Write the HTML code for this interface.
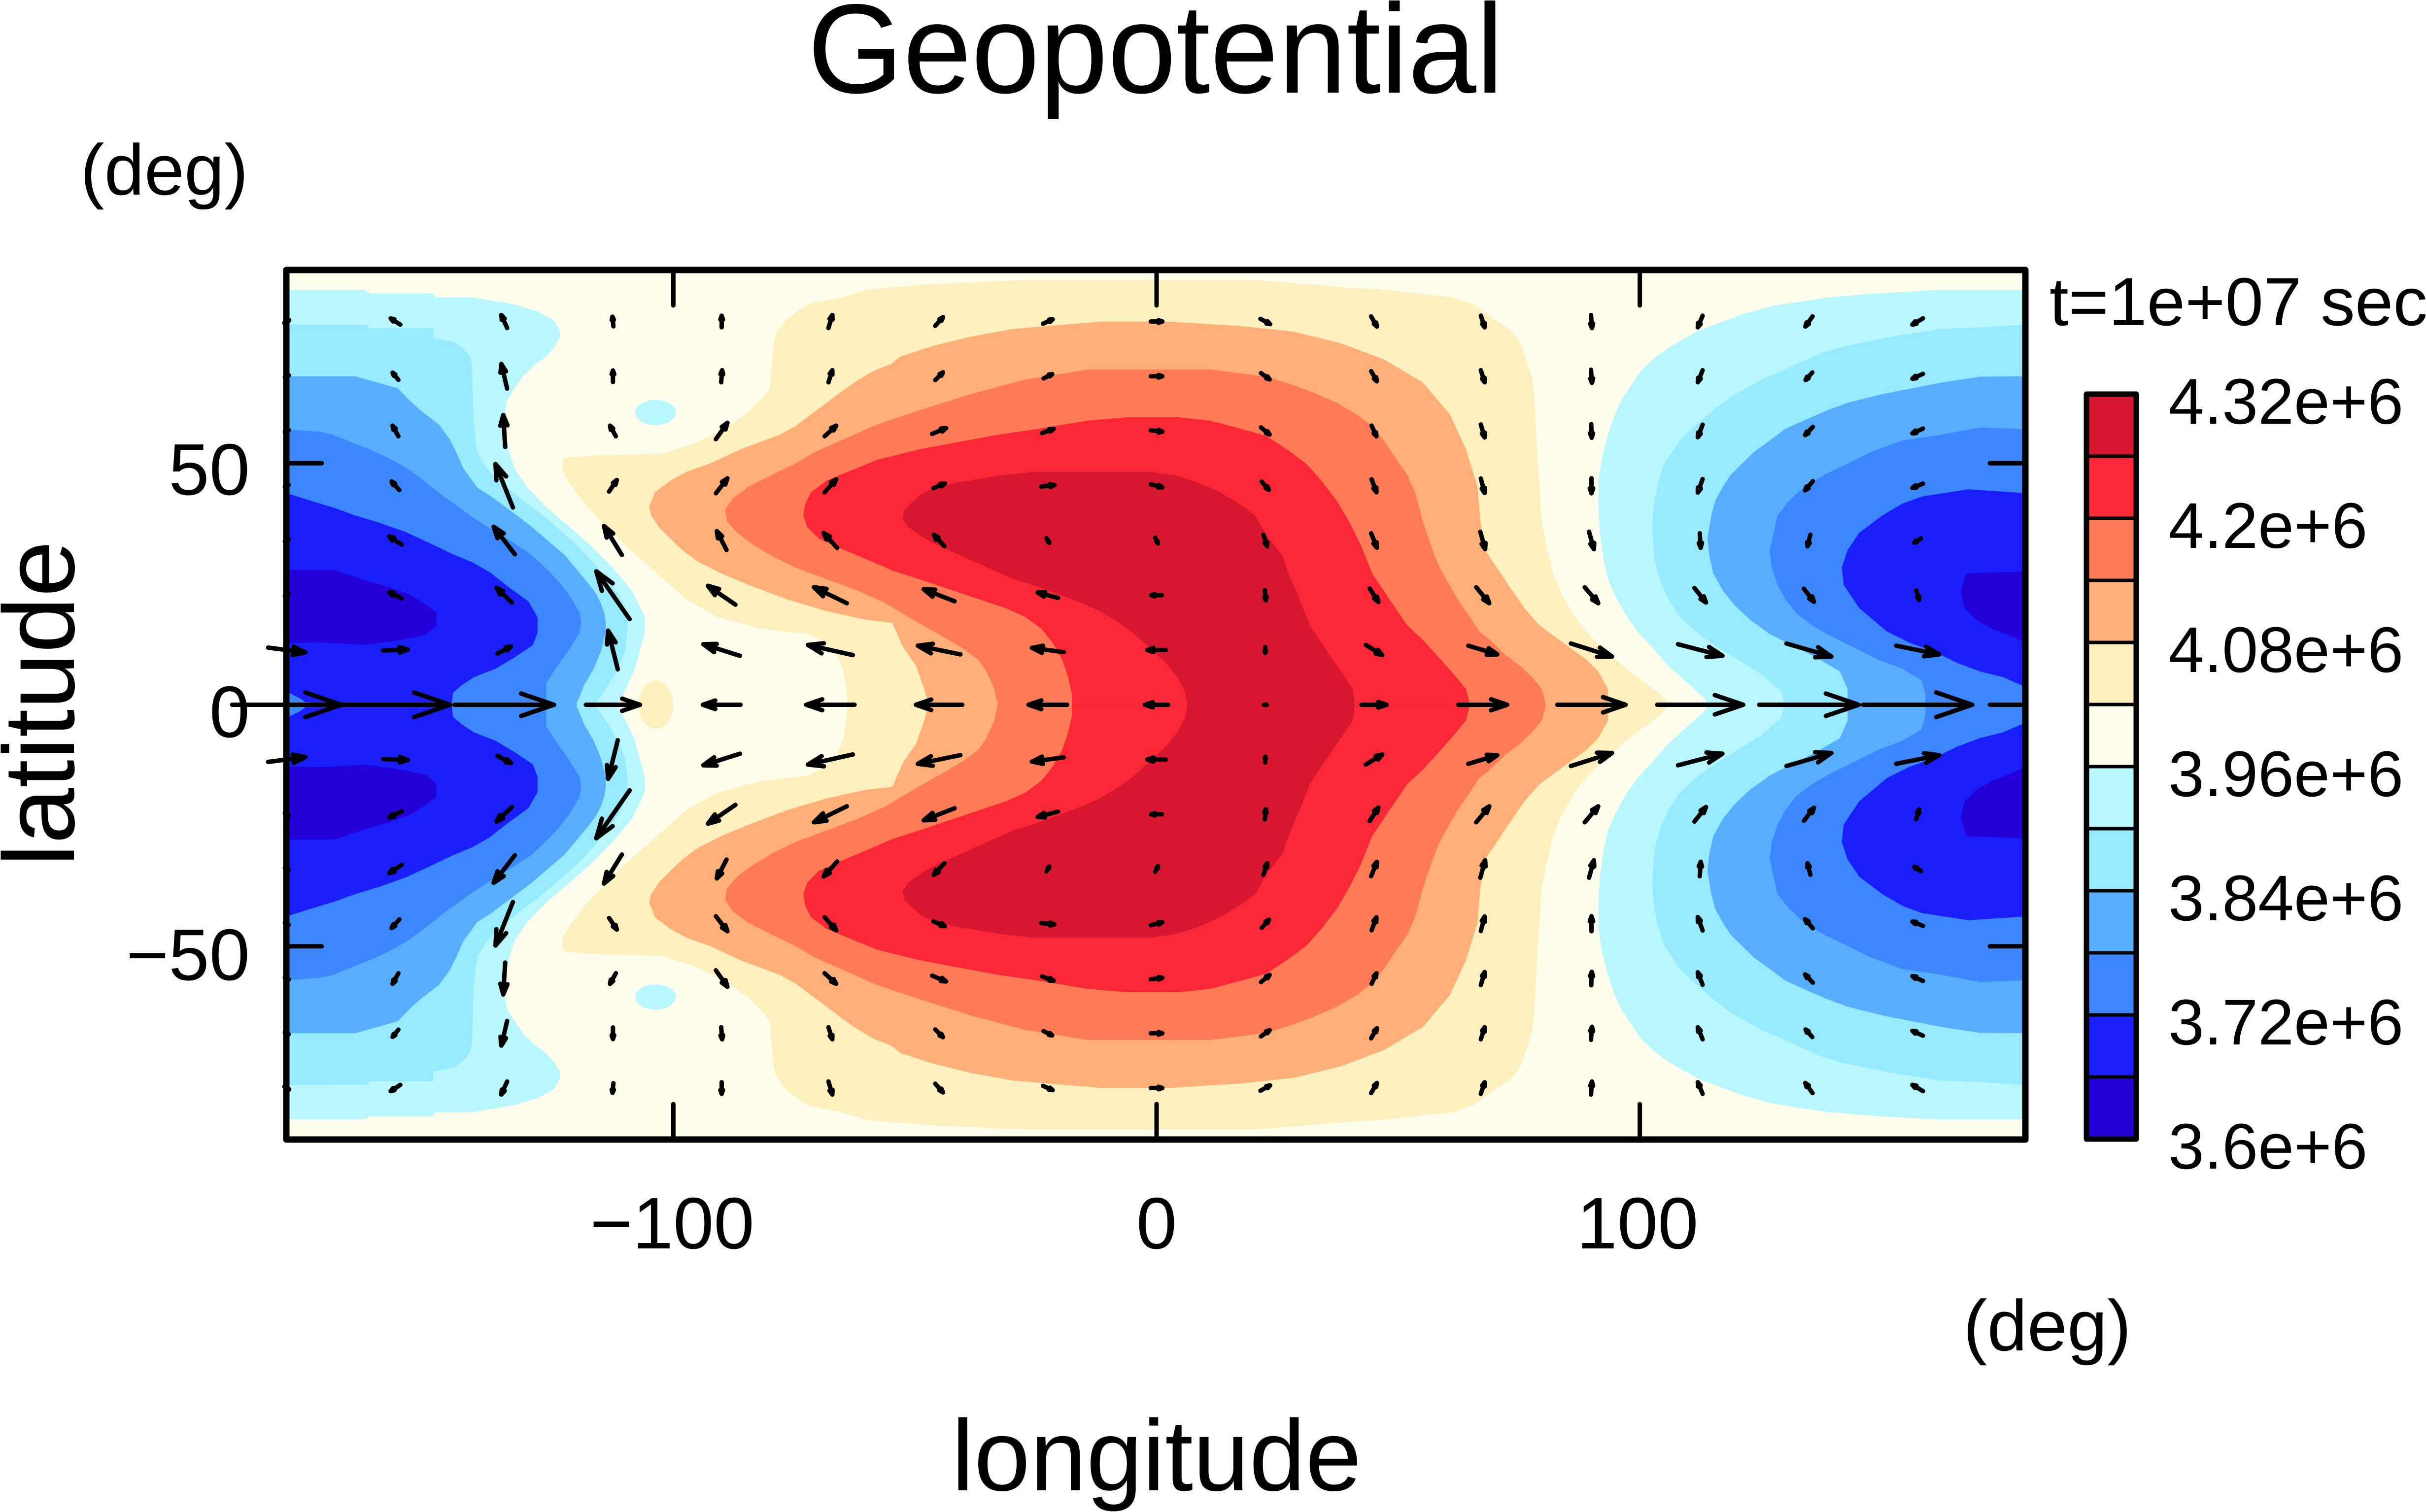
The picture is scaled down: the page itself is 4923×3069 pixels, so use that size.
<!DOCTYPE html>
<html><head><meta charset="utf-8"><style>
html,body{margin:0;padding:0;background:#fff;}
svg{display:block;}
text{font-family:"Liberation Sans",Arial,Helvetica,sans-serif;fill:#000;}
</style></head><body>
<svg xmlns="http://www.w3.org/2000/svg" width="4923" height="3069" viewBox="0 0 4923 3069">
<defs>
<clipPath id="clip"><rect x="-180" y="-90" width="360" height="180"/></clipPath>
<path id="a" d="M-1 0L1 0M0.34 0.225L1 0L0.34 -0.225" fill="none" stroke="#000" stroke-width="9" stroke-linecap="round" stroke-linejoin="round" vector-effect="non-scaling-stroke"/>
</defs>
<rect width="4923" height="3069" fill="#fff"/>

<g transform="translate(2347 1430.5) scale(9.806 -9.806)">
 <g clip-path="url(#clip)">
  <rect x="-180" y="-90" width="360" height="180" fill="#FFFDEB"/>
  <g id="F">
   <polygon fill="#FEF0BE" points="-64,-0.5 -64.2,3 -64.8,7 -66.2,10.5 -68.5,13 -72.3,14.65 -82,15.8 -90.9,18.2 -97.3,21.8 -101.4,25.4 -105.4,29 -110.2,33.2 -114.3,37.4 -118.3,41.6 -121.5,45.8 -123.1,48.75 -122.7,51.1 -115.9,51.6 -102.2,52 -95.7,54.1 -89.3,57.1 -84.4,60.7 -82,63.1 -80,65.5 -79.4,73.9 -78.8,76.9 -76.4,79.9 -72.3,82.86 -65.1,84.35 -60.2,85.85 -55,86.4 -45,87.16 -27.2,87.9 20.8,87.9 39,86.4 47.8,85.85 61.1,84.35 65.6,82.86 68,81.1 73.2,77.5 75.2,75.1 77.7,67.9 78.1,64.3 78.9,49.9 79.7,38 80.9,32 82.1,27.2 83.7,23 86.5,18.2 89.8,14.05 93.8,10.46 97.8,6.87 101.1,4.47 104.3,2.1 105.9,0.3 106,-0.5"/>
   <polygon fill="#FFAF78" points="-47,-0.5 -48.1,3.3 -49.8,8.1 -52.5,12 -54.7,17 -60.2,17.6 -68.3,19.4 -76.4,21.8 -84.4,24.8 -90.1,27.2 -94.9,29.6 -98.1,32 -100.6,34.4 -103,36.8 -104.6,39.2 -105,41 -103.8,44 -100.6,46.4 -97.3,48.2 -92.5,49.9 -86,52.9 -81.2,54.7 -78,55.9 -74.7,57.7 -71.5,60.1 -68.3,62.5 -65.9,64.3 -62.6,66.7 -58.6,69.1 -55,70.5 -53,72.1 -46.5,74.2 -38.5,76.2 -29.6,77.8 -11.4,79.3 2.7,79.3 17.2,78.4 28.5,77.2 38.2,74.8 47,71.5 55.1,66.7 60.7,60.1 64,52.9 66.4,45.2 67,38 68,32 70.4,28.4 72.8,24.8 76.1,20 79.3,16.4 82.5,14.05 85.7,11.7 89,9.3 91.4,6.9 93.4,3.3 93.4,-0.5"/>
   <polygon fill="#FF7B55" points="-32.8,-0.5 -33.6,3.3 -35.2,6.9 -36.9,9.3 -40.1,11.7 -44.1,14.05 -51.4,18.2 -56,21 -61.8,23.6 -68.3,26 -74.7,28.4 -79.6,30.8 -83.6,33.2 -86.8,35.6 -88.9,38 -89.3,40.4 -87.6,42.8 -84.4,45.2 -79.6,47.6 -74.7,49.95 -70.7,52.3 -66.7,54.1 -62.6,55.9 -58.6,57.7 -55,59 -49.8,60.7 -38.5,64.3 -32.8,65.8 -27.2,67.3 -21.5,68.2 -14.3,69.4 11.1,69.4 22.8,67.9 28.5,66.1 32.5,64.6 37.3,62.5 41.4,60.1 44.6,57.7 47,54.7 49.4,51.1 51.9,47.6 53.5,44 55.1,38 56.7,33.2 58.3,29 59.9,26 62.3,21.8 64.8,18.2 66.8,15.2 68.7,13.7 72,10.46 75.2,8.07 77.7,5.7 79.7,3.3 80.5,0.3 80.5,-0.5"/>
   <polygon fill="#FA2837" points="-17.5,-0.5 -17.5,2.1 -18.3,5.7 -19.5,9.27 -21.5,12.8 -23.9,15.8 -27.2,18.2 -31.2,20 -39.3,22.7 -47.3,25.4 -54.7,27.8 -60.2,30.2 -65.9,32.6 -69.9,34.4 -72.3,36.8 -73.1,39.2 -72.7,41.6 -71.5,44 -68.3,46.4 -62.6,48.75 -57.8,50.7 -48.9,52.9 -40.9,54.4 -32.8,55.9 -23.9,57.2 -14.3,58.8 -6.2,59.5 4.7,59.5 11.1,58.8 17.2,57.2 22.8,55.6 26.9,52.9 30.9,49.95 34.1,46.4 37.3,42.2 39.8,38 42.2,33.2 44.6,27.2 47.8,22.4 51.9,16.4 55.1,13.45 58.3,9.9 61.5,6.3 64,3.3 64.8,0.3 64.8,-0.5"/>
   <polygon fill="#D7172F" points="6.3,-0.5 6.3,0.3 5.9,2.7 4.3,5.7 1.9,8.7 -1.4,11.7 -4.6,14.65 -7.8,17 -11.8,19.4 -15.9,21.2 -20.7,23 -25.6,24.8 -29.6,26 -33.6,27.8 -37.7,29.6 -41.7,31.4 -45.7,33.2 -48.9,35 -51.4,36.8 -52.6,38.6 -52.2,40.4 -49,43.4 -46.5,44.6 -41.7,45.9 -32.8,47.4 -25.6,48.2 -1,48.2 4.3,47.4 9.1,45.8 13.1,44 18,41 20.4,39.2 22.8,35 26.1,30.8 27.3,27.2 30.1,20.6 31.7,16.4 34.1,12.8 36.5,9.27 39,5.7 40.6,3.3 41,0.3 41,-0.5"/>
   <g id="B">
    <polygon fill="#B8F7FE" points="114.8,-0.5 113.2,1.5 109.9,4.47 105.9,8.07 102.7,11.7 99.5,15.2 97,18.8 95,22.4 93.4,26 92.6,29.6 91.8,35 91.4,41 91.4,46.4 92.2,51.2 93.4,55.9 94.6,59.5 96.2,63.1 98.6,66.7 100.2,69.1 102.7,71.5 105.9,73.9 109.1,75.7 112.3,77.5 117.2,79.3 121.2,80.8 127.7,82.6 138.2,84.2 146.2,84.95 161.1,85.85 196.1,85.85 197.35,85.13 210.25,85.13 210.7,84.35 218.3,84.35 227.2,82.86 232,81.36 235.25,79.56 236.5,77.47 236.5,75.97 235.25,73.88 233.6,72.09 231.2,70.29 228.8,67.9 227.2,65.5 225.6,63.1 225.2,60.7 225.4,55.9 226,52.3 227.2,48.75 229.6,45.2 233.6,41 238.5,36.8 243.3,32.6 247.4,28.4 251.4,23.6 253.8,18.8 254.2,17 254,14.65 253,11 252,7.4 250.5,4 248.5,0.3 248.5,-0.5"/>
    <polygon fill="#98EAFE" points="130.1,-0.5 129.3,2.7 125.2,6.3 120.4,9.27 115.6,12.2 111.5,15.2 108.3,18.2 105.9,21.8 104.3,25.4 103.1,29.6 102.7,34.4 102.7,39.2 103.1,42.8 103.9,46.4 105.1,49.95 106.7,52.3 108.3,54.7 110.7,57.1 113.2,59.2 115.6,61.3 118.8,63.7 122,65.5 125.2,67.3 129.3,69.1 133.3,70.9 137.3,72.7 142.2,74.2 152.7,76.3 162.4,77.8 170.4,78.1 180,78.7 196.9,78.67 196.9,77.95 210.3,77.95 210.3,75.97 214.7,75.08 216.3,73.88 217.9,72.09 218.3,70.29 218.5,64.9 218.7,58.3 219,55 219.5,52 221.3,49 225.5,45 228,43 232,40 235.5,37 239,34 242,31 244.7,28 247,25 248.5,23 249.5,21 250.3,19 250.5,17 250.5,15 250,11 248.5,7.4 246.5,4 244,0.3 244,-0.5"/>
    <polygon fill="#58AEFE" points="143,-0.5 143,3.3 141.4,6.9 136.5,9.8 131.7,12.2 126.9,14.65 122.8,17.6 119.6,20.6 117.2,23.6 115.2,27.2 114.4,30.8 114,34.4 114.8,39.2 115.6,42.2 117.2,45.2 118.8,47.6 121.2,49.95 123.6,52.3 126.9,54.7 130.1,57.1 134.1,58.9 138.2,60.7 143,62.5 150.2,64.3 162.4,66.7 170.4,67.9 180,68 194.1,68 203,65.5 205.4,63 207.6,61 211.5,58 213.7,55 215.2,52 216.5,49 219.4,45 222.5,43 226.5,40 230.5,37 234,34 237.5,31 240,28 242.5,25 244,23 245,21 245.7,19 246,17 246,15 245,11 243.5,7.4 241.5,4 240,0.3 240,-0.5"/>
    <polygon fill="#3D87FE" points="159.1,-0.5 159.1,2.1 158.3,5.07 154.3,7.47 149.4,9.27 144.6,11.7 139.8,14.05 135.7,16.4 132.5,18.8 130.1,21.8 128.5,24.8 127.3,28.4 126.9,32 127.7,35.6 128.5,39.2 130.9,42.2 134.1,45.2 138.2,47.6 143,49.95 147.8,52.3 154.3,54.7 162.4,55.9 170.4,57.4 180,57 187,56.5 189.7,55.9 192.5,54.7 197.8,52.6 201,51.1 204.5,49.2 207.5,47.05 210,45.1 212.5,43.1 215.6,40.9 218.8,38.6 221.9,36.6 226.2,34 230.6,31.1 233.7,28.2 236.2,25.6 238.7,22.3 240.6,19.1 240.9,17.1 240.6,14.9 238.1,10.95 235.6,7.4 233.7,4.45 233.7,-0.5"/>
    <polygon fill="#1A1EFA" points="180,2.7 179.3,3.9 175.2,5.7 170.4,6.9 165.6,8.7 160.7,11.1 155.9,12.8 151.1,15.2 145.4,20 142.2,24.8 141.8,28.4 143,32 145.4,35.6 150.2,39.2 154.3,41.6 158.3,43.1 168,44.6 180,43.8 185.7,42 190,40.7 194.1,39.2 199.4,37.6 204.7,35.7 209.7,33.4 214.1,31.3 218.4,29.5 221.9,27.5 225.6,24.6 230,21.4 231.9,18.1 231.9,14.9 230.9,12.3 226.9,9.65 223.1,7.4 218.8,5.75 216.3,4.1 214.4,2.5 214.1,-0.5 185,-0.5 183,1.2"/>
    <polygon fill="#2400D8" points="179.3,27.6 167.6,27.2 166.4,23.6 167.2,20 169.6,17.6 172.8,15.8 176.9,14.2 180,12.8 187.2,12.9 196.3,12.4 202.5,13.2 208.8,14.5 211,16.5 211,19.1 208.8,20.7 205.65,22.7 201.3,24.3 195.7,25.9 190,27.9 180.4,27.9"/>
   </g>
   <use href="#B" transform="translate(-360 0)"/>
  </g>
  <use href="#F" transform="scale(1 -1)"/>
  <ellipse cx="-103.6" cy="0" rx="3.6" ry="5" fill="#FEF0BE"/>
  <ellipse cx="-103.7" cy="60.5" rx="4.2" ry="2.6" fill="#B8F7FE"/>
  <ellipse cx="-103.7" cy="-60.5" rx="4.2" ry="2.6" fill="#B8F7FE"/>
 </g>

 <g>
  <use href="#a" transform="matrix(11.3 0 0 11.3 -180 0)"/>
  <use href="#a" transform="matrix(11.3 0 0 11.3 -157.5 0)"/>
  <use href="#a" transform="matrix(10.3 0 0 10.3 -135 0)"/>
  <use href="#a" transform="matrix(5.6 0 0 5.6 -112.5 0)"/>
  <use href="#a" transform="matrix(-3.9 0 0 -3.9 -90 0)"/>
  <use href="#a" transform="matrix(-5 0 0 -5 -67.5 0)"/>
  <use href="#a" transform="matrix(-4.8 0 0 -4.8 -45 0)"/>
  <use href="#a" transform="matrix(-4 0 0 -4 -22.5 0)"/>
  <use href="#a" transform="matrix(-2.4 0 0 -2.4 0 0)"/>
  <use href="#a" transform="matrix(0.3 0 0 0.3 22.5 0)"/>
  <use href="#a" transform="matrix(2.6 0 0 2.6 45 0)"/>
  <use href="#a" transform="matrix(5.05 0 0 5.05 67.5 0)"/>
  <use href="#a" transform="matrix(7.05 0 0 7.05 90 0)"/>
  <use href="#a" transform="matrix(8.9 0 0 8.9 112.5 0)"/>
  <use href="#a" transform="matrix(10.3 0 0 10.3 135 0)"/>
  <use href="#a" transform="matrix(11.3 0 0 11.3 157.5 0)"/>
 </g>
 <g id="AN">
  <use href="#a" transform="matrix(3.85 -0.5 0.5 3.85 -180 11.33)"/>
  <use href="#a" transform="matrix(2.55 0.1 -0.1 2.55 -157.5 11.33)"/>
  <use href="#a" transform="matrix(1.4 0.75 -0.75 1.4 -135 11.33)"/>
  <use href="#a" transform="matrix(-1 4 -4 -1 -112.5 11.33)"/>
  <use href="#a" transform="matrix(-3.8 1.2 -1.2 -3.8 -90 11.33)"/>
  <use href="#a" transform="matrix(-4.65 1.05 -1.05 -4.65 -67.5 11.33)"/>
  <use href="#a" transform="matrix(-4.4 0.9 -0.9 -4.4 -45 11.33)"/>
  <use href="#a" transform="matrix(-3.3 0.45 -0.45 -3.3 -22.5 11.33)"/>
  <use href="#a" transform="matrix(-1.9 0 0 -1.9 0 11.33)"/>
  <use href="#a" transform="matrix(0 -0.6 0.6 0 22.5 11.33)"/>
  <use href="#a" transform="matrix(1.7 -1.05 1.05 1.7 45 11.33)"/>
  <use href="#a" transform="matrix(3 -0.9 0.9 3 67.5 11.33)"/>
  <use href="#a" transform="matrix(4.25 -1.35 1.35 4.25 90 11.33)"/>
  <use href="#a" transform="matrix(4.6 -1.2 1.2 4.6 112.5 11.33)"/>
  <use href="#a" transform="matrix(4.65 -1.35 1.35 4.65 135 11.33)"/>
  <use href="#a" transform="matrix(4.45 -0.9 0.9 4.45 157.5 11.33)"/>
  <use href="#a" transform="matrix(0.4 0.2 -0.2 0.4 -180 22.67)"/>
  <use href="#a" transform="matrix(-1.3 0.65 -0.65 -1.3 -157.5 22.67)"/>
  <use href="#a" transform="matrix(-1.6 1.5 -1.5 -1.6 -135 22.67)"/>
  <use href="#a" transform="matrix(-3.45 4.95 -4.95 -3.45 -112.5 22.67)"/>
  <use href="#a" transform="matrix(-2.85 1.95 -1.95 -2.85 -90 22.67)"/>
  <use href="#a" transform="matrix(-3.4 1.65 -1.65 -3.4 -67.5 22.67)"/>
  <use href="#a" transform="matrix(-3.2 1.25 -1.25 -3.2 -45 22.67)"/>
  <use href="#a" transform="matrix(-2.1 0.55 -0.55 -2.1 -22.5 22.67)"/>
  <use href="#a" transform="matrix(-1.1 0 0 -1.1 0 22.67)"/>
  <use href="#a" transform="matrix(0.1 -1.05 1.05 0.1 22.5 22.67)"/>
  <use href="#a" transform="matrix(0.9 -1.4 1.4 0.9 45 22.67)"/>
  <use href="#a" transform="matrix(1.35 -1.65 1.65 1.35 67.5 22.67)"/>
  <use href="#a" transform="matrix(1.4 -1.65 1.65 1.4 90 22.67)"/>
  <use href="#a" transform="matrix(1.2 -1.5 1.5 1.2 112.5 22.67)"/>
  <use href="#a" transform="matrix(1.05 -1.35 1.35 1.05 135 22.67)"/>
  <use href="#a" transform="matrix(0.3 -1 1 0.3 157.5 22.67)"/>
  <use href="#a" transform="matrix(0.4 0.2 -0.2 0.4 -180 34)"/>
  <use href="#a" transform="matrix(-1.3 0.85 -0.85 -1.3 -157.5 34)"/>
  <use href="#a" transform="matrix(-2.2 2.85 -2.85 -2.2 -135 34)"/>
  <use href="#a" transform="matrix(-1.85 3 -3 -1.85 -112.5 34)"/>
  <use href="#a" transform="matrix(-1 1.95 -1.95 -1 -90 34)"/>
  <use href="#a" transform="matrix(-1.4 1.55 -1.55 -1.4 -67.5 34)"/>
  <use href="#a" transform="matrix(-1.1 1.2 -1.2 -1.1 -45 34)"/>
  <use href="#a" transform="matrix(0.3 -0.5 0.5 0.3 -22.5 34)"/>
  <use href="#a" transform="matrix(0.3 -0.6 0.6 0.3 0 34)"/>
  <use href="#a" transform="matrix(0.4 -1.2 1.2 0.4 22.5 34)"/>
  <use href="#a" transform="matrix(0.6 -1.5 1.5 0.6 45 34)"/>
  <use href="#a" transform="matrix(0.5 -1.8 1.8 0.5 67.5 34)"/>
  <use href="#a" transform="matrix(0.5 -1.8 1.8 0.5 90 34)"/>
  <use href="#a" transform="matrix(0.1 -1.5 1.5 0.1 112.5 34)"/>
  <use href="#a" transform="matrix(-0.3 -1.2 1.2 -0.3 135 34)"/>
  <use href="#a" transform="matrix(-0.7 -0.45 0.45 -0.7 157.5 34)"/>
  <use href="#a" transform="matrix(0.4 0.2 -0.2 0.4 -180 45.33)"/>
  <use href="#a" transform="matrix(-0.8 0.9 -0.9 -0.8 -157.5 45.33)"/>
  <use href="#a" transform="matrix(-1.8 4.5 -4.5 -1.8 -135 45.33)"/>
  <use href="#a" transform="matrix(0.8 1.2 -1.2 0.8 -112.5 45.33)"/>
  <use href="#a" transform="matrix(1.2 1.55 -1.55 1.2 -90 45.33)"/>
  <use href="#a" transform="matrix(1.2 1.35 -1.35 1.2 -67.5 45.33)"/>
  <use href="#a" transform="matrix(1.2 0.5 -0.5 1.2 -45 45.33)"/>
  <use href="#a" transform="matrix(1.35 0.15 -0.15 1.35 -22.5 45.33)"/>
  <use href="#a" transform="matrix(1.2 -0.3 0.3 1.2 0 45.33)"/>
  <use href="#a" transform="matrix(0.75 -0.85 0.85 0.75 22.5 45.33)"/>
  <use href="#a" transform="matrix(0.5 -1.35 1.35 0.5 45 45.33)"/>
  <use href="#a" transform="matrix(0.4 -1.5 1.5 0.4 67.5 45.33)"/>
  <use href="#a" transform="matrix(0 -1.55 1.55 0 90 45.33)"/>
  <use href="#a" transform="matrix(-0.5 -1.4 1.4 -0.5 112.5 45.33)"/>
  <use href="#a" transform="matrix(-0.8 -0.95 0.95 -0.8 135 45.33)"/>
  <use href="#a" transform="matrix(-1.1 -0.45 0.45 -1.1 157.5 45.33)"/>
  <use href="#a" transform="matrix(0.4 0.2 -0.2 0.4 -180 56.67)"/>
  <use href="#a" transform="matrix(-0.6 1.1 -1.1 -0.6 -157.5 56.67)"/>
  <use href="#a" transform="matrix(-0.2 3.3 -3.3 -0.2 -135 56.67)"/>
  <use href="#a" transform="matrix(-0.6 1.1 -1.1 -0.6 -112.5 56.67)"/>
  <use href="#a" transform="matrix(1.2 1.7 -1.7 1.2 -90 56.67)"/>
  <use href="#a" transform="matrix(1.2 1.1 -1.1 1.2 -67.5 56.67)"/>
  <use href="#a" transform="matrix(1.45 0.6 -0.6 1.45 -45 56.67)"/>
  <use href="#a" transform="matrix(1.2 0.45 -0.45 1.2 -22.5 56.67)"/>
  <use href="#a" transform="matrix(1.2 -0.15 0.15 1.2 0 56.67)"/>
  <use href="#a" transform="matrix(0.9 -0.75 0.75 0.9 22.5 56.67)"/>
  <use href="#a" transform="matrix(0.5 -1.1 1.1 0.5 45 56.67)"/>
  <use href="#a" transform="matrix(0.4 -1.35 1.35 0.4 67.5 56.67)"/>
  <use href="#a" transform="matrix(0.05 -1.4 1.4 0.05 90 56.67)"/>
  <use href="#a" transform="matrix(-0.5 -1.3 1.3 -0.5 112.5 56.67)"/>
  <use href="#a" transform="matrix(-0.8 -0.85 0.85 -0.8 135 56.67)"/>
  <use href="#a" transform="matrix(-1.1 -0.5 0.5 -1.1 157.5 56.67)"/>
  <use href="#a" transform="matrix(0.4 0.2 -0.2 0.4 -180 68)"/>
  <use href="#a" transform="matrix(-0.6 0.75 -0.75 -0.6 -157.5 68)"/>
  <use href="#a" transform="matrix(-0.6 2.55 -2.55 -0.6 -135 68)"/>
  <use href="#a" transform="matrix(0 1.2 -1.2 0 -112.5 68)"/>
  <use href="#a" transform="matrix(0.1 1.25 -1.25 0.1 -90 68)"/>
  <use href="#a" transform="matrix(0.4 1.25 -1.25 0.4 -67.5 68)"/>
  <use href="#a" transform="matrix(0.8 0.8 -0.8 0.8 -45 68)"/>
  <use href="#a" transform="matrix(0.9 0.45 -0.45 0.9 -22.5 68)"/>
  <use href="#a" transform="matrix(1.2 0 0 1.2 0 68)"/>
  <use href="#a" transform="matrix(0.9 -0.65 0.65 0.9 22.5 68)"/>
  <use href="#a" transform="matrix(0.6 -1.05 1.05 0.6 45 68)"/>
  <use href="#a" transform="matrix(0.4 -1.25 1.25 0.4 67.5 68)"/>
  <use href="#a" transform="matrix(0.1 -1.35 1.35 0.1 90 68)"/>
  <use href="#a" transform="matrix(-0.5 -1.25 1.25 -0.5 112.5 68)"/>
  <use href="#a" transform="matrix(-0.7 -0.8 0.8 -0.7 135 68)"/>
  <use href="#a" transform="matrix(-1.1 -0.5 0.5 -1.1 157.5 68)"/>
  <use href="#a" transform="matrix(0.5 0.3 -0.3 0.5 -180 79.33)"/>
  <use href="#a" transform="matrix(-1 0.65 -0.65 -1 -157.5 79.33)"/>
  <use href="#a" transform="matrix(-0.6 1.35 -1.35 -0.6 -135 79.33)"/>
  <use href="#a" transform="matrix(-0.1 1 -1 -0.1 -112.5 79.33)"/>
  <use href="#a" transform="matrix(0 1.2 -1.2 0 -90 79.33)"/>
  <use href="#a" transform="matrix(0.4 1.35 -1.35 0.4 -67.5 79.33)"/>
  <use href="#a" transform="matrix(0.8 0.9 -0.9 0.8 -45 79.33)"/>
  <use href="#a" transform="matrix(1 0.45 -0.45 1 -22.5 79.33)"/>
  <use href="#a" transform="matrix(1.2 0 0 1.2 0 79.33)"/>
  <use href="#a" transform="matrix(1 -0.55 0.55 1 22.5 79.33)"/>
  <use href="#a" transform="matrix(0.6 -1.05 1.05 0.6 45 79.33)"/>
  <use href="#a" transform="matrix(0.4 -1.2 1.2 0.4 67.5 79.33)"/>
  <use href="#a" transform="matrix(0.1 -1.35 1.35 0.1 90 79.33)"/>
  <use href="#a" transform="matrix(-0.5 -1.2 1.2 -0.5 112.5 79.33)"/>
  <use href="#a" transform="matrix(-0.75 -1.05 1.05 -0.75 135 79.33)"/>
  <use href="#a" transform="matrix(-1.1 -0.65 0.65 -1.1 157.5 79.33)"/>
 </g>
 <use href="#AN" transform="scale(1 -1)"/>
</g>

<rect x="581" y="548" width="3529" height="1765" fill="none" stroke="#000" stroke-width="13" stroke-linejoin="round"/>
<g stroke="#000" stroke-width="9" stroke-linecap="round">
 <line x1="1366.4" y1="2313" x2="1366.4" y2="2241"/>
 <line x1="2347" y1="2313" x2="2347" y2="2241"/>
 <line x1="3327.6" y1="2313" x2="3327.6" y2="2241"/>
 <line x1="1366.4" y1="548" x2="1366.4" y2="620"/>
 <line x1="2347" y1="548" x2="2347" y2="620"/>
 <line x1="3327.6" y1="548" x2="3327.6" y2="620"/>
 <line x1="581" y1="940.2" x2="653" y2="940.2"/>
 <line x1="581" y1="1430.5" x2="653" y2="1430.5"/>
 <line x1="581" y1="1920.8" x2="653" y2="1920.8"/>
 <line x1="4110" y1="940.2" x2="4038" y2="940.2"/>
 <line x1="4110" y1="1430.5" x2="4038" y2="1430.5"/>
 <line x1="4110" y1="1920.8" x2="4038" y2="1920.8"/>
</g>

<g>
 <rect x="4234" y="800" width="101" height="126" fill="#D7172F"/>
 <rect x="4234" y="926" width="101" height="126" fill="#FA2837"/>
 <rect x="4234" y="1052" width="101" height="126" fill="#FF7B55"/>
 <rect x="4234" y="1178" width="101" height="126" fill="#FFAF78"/>
 <rect x="4234" y="1304" width="101" height="126" fill="#FEF0BE"/>
 <rect x="4234" y="1430" width="101" height="126" fill="#FFFDEB"/>
 <rect x="4234" y="1556" width="101" height="126" fill="#B8F7FE"/>
 <rect x="4234" y="1682" width="101" height="126" fill="#98EAFE"/>
 <rect x="4234" y="1808" width="101" height="126" fill="#58AEFE"/>
 <rect x="4234" y="1934" width="101" height="126" fill="#3D87FE"/>
 <rect x="4234" y="2060" width="101" height="126" fill="#1A1EFA"/>
 <rect x="4234" y="2186" width="101" height="126" fill="#2400D8"/>
 <g stroke="#000" stroke-width="7">
  <line x1="4234" y1="926" x2="4335" y2="926"/>
  <line x1="4234" y1="1052" x2="4335" y2="1052"/>
  <line x1="4234" y1="1178" x2="4335" y2="1178"/>
  <line x1="4234" y1="1304" x2="4335" y2="1304"/>
  <line x1="4234" y1="1430" x2="4335" y2="1430"/>
  <line x1="4234" y1="1556" x2="4335" y2="1556"/>
  <line x1="4234" y1="1682" x2="4335" y2="1682"/>
  <line x1="4234" y1="1808" x2="4335" y2="1808"/>
  <line x1="4234" y1="1934" x2="4335" y2="1934"/>
  <line x1="4234" y1="2060" x2="4335" y2="2060"/>
  <line x1="4234" y1="2186" x2="4335" y2="2186"/>
 </g>
 <rect x="4234" y="800" width="101" height="1512" fill="none" stroke="#000" stroke-width="11" stroke-linejoin="round"/>
</g>

<text x="2345" y="188" font-size="258" text-anchor="middle" textLength="1412" lengthAdjust="spacingAndGlyphs">Geopotential</text>
<text x="163" y="395" font-size="146">(deg)</text>
<text x="4159" y="660" font-size="138" textLength="767" lengthAdjust="spacingAndGlyphs">t=1e+07 sec</text>

<g font-size="131">
 <text x="4400" y="860">4.32e+6</text>
 <text x="4400" y="1112">4.2e+6</text>
 <text x="4400" y="1364">4.08e+6</text>
 <text x="4400" y="1616">3.96e+6</text>
 <text x="4400" y="1868">3.84e+6</text>
 <text x="4400" y="2120">3.72e+6</text>
 <text x="4400" y="2372">3.6e+6</text>
</g>

<g font-size="148">
 <text x="507" y="1004" text-anchor="end">50</text>
 <text x="507" y="1496" text-anchor="end">0</text>
 <text x="507" y="1989" text-anchor="end">&#8722;50</text>
 <text x="1364" y="2534" text-anchor="middle">&#8722;100</text>
 <text x="2347" y="2534" text-anchor="middle">0</text>
 <text x="3323" y="2534" text-anchor="middle">100</text>
</g>
<text x="3984" y="2741" font-size="146">(deg)</text>
<text x="2347" y="3025" font-size="205" text-anchor="middle">longitude</text>
<text transform="translate(150 1428) rotate(-90)" font-size="205" text-anchor="middle">latitude</text>
</svg>
</body></html>
